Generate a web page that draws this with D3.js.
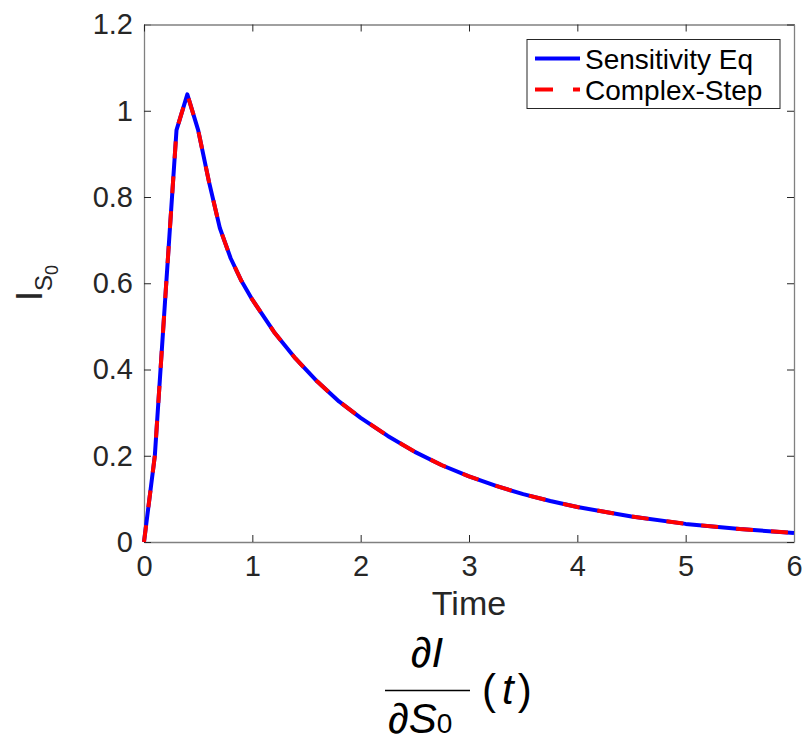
<!DOCTYPE html>
<html>
<head>
<meta charset="utf-8">
<script src="https://cdn.jsdelivr.net/npm/d3@7"></script>
<style>
  body { margin: 0; background: #fff; }
  text { font-family: "Liberation Sans", Arial, Helvetica, sans-serif; }
</style>
</head>
<body>
<svg id="chart" width="804" height="749"></svg>
<script>
// values
var timeVals = [0, 0.1, 0.2, 0.3, 0.4, 0.5, 0.6, 0.7, 0.8, 0.9, 1.0,
  1.2, 1.4, 1.6, 1.8, 2.0, 2.25, 2.5, 2.75, 3.0, 3.25, 3.5, 3.75, 4.0,
  4.5, 5.0, 5.5, 6.0];
var sensitivityEq = [0, 0.20, 0.58, 0.955, 1.038, 0.955, 0.835, 0.728, 0.658, 0.605, 0.562,
  0.487, 0.425, 0.372, 0.326, 0.288, 0.246, 0.209, 0.178, 0.152, 0.130, 0.111, 0.095, 0.081,
  0.059, 0.042, 0.030, 0.021];
var complexStep = [0, 0.20, 0.58, 0.955, 1.038, 0.955, 0.835, 0.728, 0.658, 0.605, 0.562,
  0.487, 0.425, 0.372, 0.326, 0.288, 0.246, 0.209, 0.178, 0.152, 0.130, 0.111, 0.095, 0.081,
  0.059, 0.042, 0.030, 0.021];
var xTicks = [0, 1, 2, 3, 4, 5, 6];
var yTicks = [0, 0.2, 0.4, 0.6, 0.8, 1, 1.2];
var legendNames = ["Sensitivity Eq", "Complex-Step"];

var svg = d3.select("#chart");
var margin = {top: 24.5, right: 10, bottom: 207, left: 144};
var width = 804 - margin.left - margin.right,
    height = 749 - margin.top - margin.bottom;

var g = svg.append("g")
    .attr("transform", "translate(" + margin.left + "," + margin.top + ")");

var x = d3.scaleLinear().domain([0, 6]).range([0, width]);
var y = d3.scaleLinear().domain([0, 1.2]).range([height, 0]);

var axisColor = "#808080", labelColor = "#262626";

// bottom / left axes with inward ticks
var xAxis = g.append("g")
    .attr("transform", "translate(0," + height + ")")
    .call(d3.axisBottom(x).tickValues(xTicks).tickSizeInner(-7).tickSizeOuter(0).tickPadding(13)
      .tickFormat(d3.format("d")));
var yAxis = g.append("g")
    .call(d3.axisLeft(y).tickValues(yTicks).tickSizeInner(-7).tickSizeOuter(0).tickPadding(11)
      .tickFormat(function(d) { return d === 0 || d === 1 ? d : d3.format(".1f")(d); }));
// top / right box lines with inward ticks, no labels
var xTop = g.append("g")
    .call(d3.axisTop(x).tickValues(xTicks).tickSizeInner(-7).tickSizeOuter(0).tickFormat(""));
var yRight = g.append("g")
    .attr("transform", "translate(" + width + ",0)")
    .call(d3.axisRight(y).tickValues(yTicks).tickSizeInner(-7).tickSizeOuter(0).tickFormat(""));

[xAxis, yAxis, xTop, yRight].forEach(function(a) {
  a.select(".domain").attr("stroke", axisColor).attr("stroke-width", 1.3);
  a.selectAll(".tick line").attr("stroke", labelColor).attr("stroke-width", 1);
  a.selectAll(".tick text").attr("fill", labelColor).style("font-size", "29px");
});

var line = d3.line()
    .x(function(d) { return x(d[0]); })
    .y(function(d) { return y(d[1]); });

var blueData = timeVals.map(function(t, i) { return [t, sensitivityEq[i]]; });
var redData = timeVals.map(function(t, i) { return [t, complexStep[i]]; });

g.append("path")
    .datum(blueData)
    .attr("d", line)
    .attr("fill", "none")
    .attr("stroke", "#0000ff")
    .attr("stroke-width", 4)
    .attr("stroke-linejoin", "round");

g.append("path")
    .datum(redData)
    .attr("d", line)
    .attr("fill", "none")
    .attr("stroke", "#ff0000")
    .attr("stroke-width", 4)
    .attr("stroke-dasharray", "17,18")
    .attr("stroke-linejoin", "round");

// x label
svg.append("text")
    .attr("x", margin.left + width / 2)
    .attr("y", 615)
    .attr("text-anchor", "middle")
    .attr("fill", labelColor)
    .style("font-size", "34px")
    .text("Time");

// y label  I_{S_0}
var yl = svg.append("text")
    .attr("transform", "translate(42,301) rotate(-90)")
    .attr("fill", labelColor);
yl.append("tspan").style("font-size", "36px").text("I");
yl.append("tspan").style("font-size", "24px").attr("dy", 10).text("S");
yl.append("tspan").style("font-size", "18px").attr("dy", 6).text("0");

// legend
var legend = svg.append("g");
legend.append("rect")
    .attr("x", 527).attr("y", 39.5)
    .attr("width", 253).attr("height", 69)
    .attr("fill", "#fff")
    .attr("stroke", "#262626")
    .attr("stroke-width", 1);
var legColors = ["#0000ff", "#ff0000"];
var legDash = [null, "18,20"];
legendNames.forEach(function(name, i) {
  var ly = 58.5 + i * 31;
  legend.append("line")
      .attr("x1", 535).attr("x2", 580)
      .attr("y1", ly).attr("y2", ly)
      .attr("stroke", legColors[i])
      .attr("stroke-width", 4)
      .attr("stroke-dasharray", legDash[i]);
  legend.append("text")
      .attr("x", 585).attr("y", ly + 10)
      .attr("fill", "#000")
      .style("font-size", "28px")
      .text(name);
});

// formula under the axis: dI/dS0 (t)
var f = svg.append("g").attr("fill", "#000");
var num = f.append("text").attr("x", 427).attr("y", 667).attr("text-anchor", "middle")
    .style("font-size", "42px");
num.append("tspan").text("\u2202");
num.append("tspan").style("font-style", "italic").text("I");
f.append("line")
    .attr("x1", 385).attr("x2", 470)
    .attr("y1", 690.5).attr("y2", 690.5)
    .attr("stroke", "#000").attr("stroke-width", 1.5);
var den = f.append("text").attr("x", 388).attr("y", 733)
    .style("font-size", "42px");
den.append("tspan").text("\u2202");
den.append("tspan").style("font-style", "italic").text("S");
den.append("tspan").style("font-size", "28px").text("0");
var tt = f.append("text").attr("x", 482).attr("y", 704)
    .style("font-size", "42px");
tt.append("tspan").style("font-weight", "300").text("(");
tt.append("tspan").style("font-style", "italic").attr("dx", 6).text("t");
tt.append("tspan").attr("dx", 4).text(")");
</script>
</body>
</html>
